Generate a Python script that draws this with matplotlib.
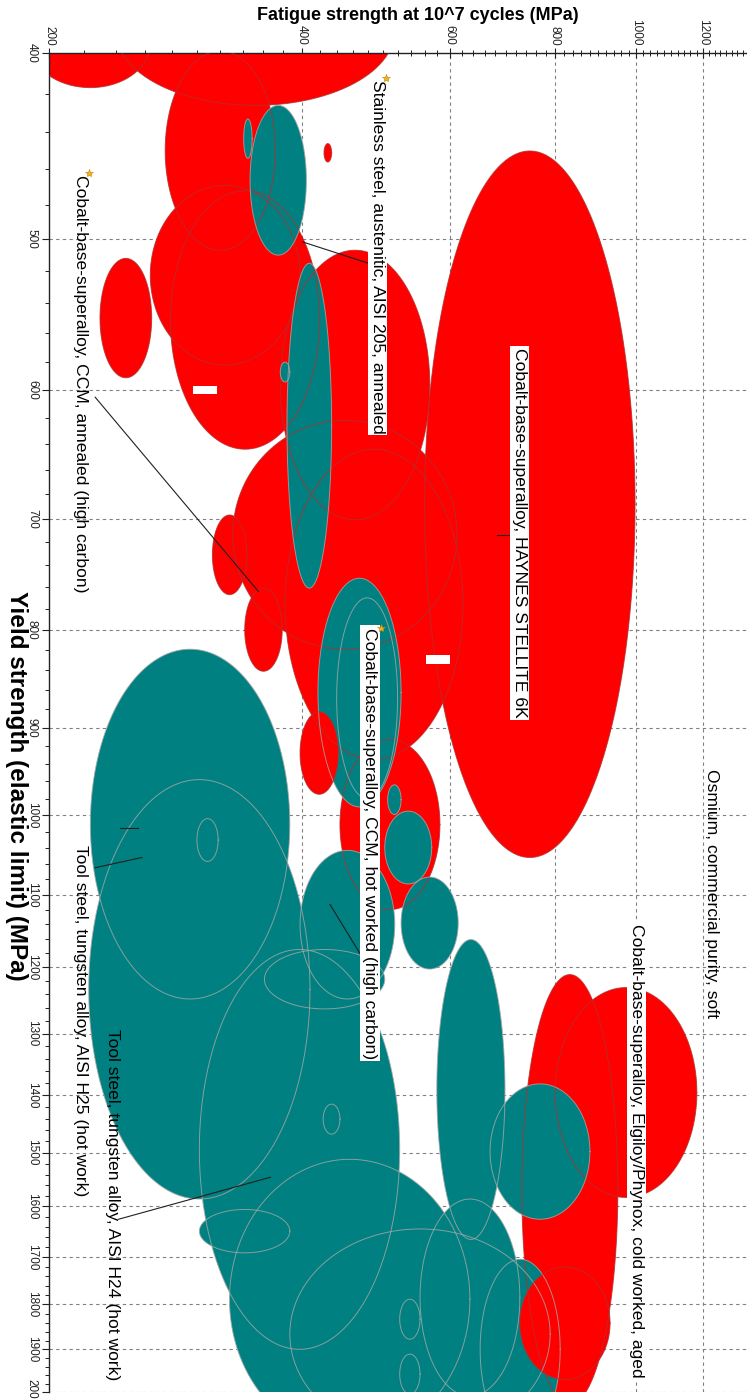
import numpy as np
import matplotlib
matplotlib.use("Agg")
import matplotlib.pyplot as plt
from matplotlib.ticker import FixedLocator, MultipleLocator, NullFormatter, FuncFormatter
from matplotlib.patches import Rectangle

plt.rcParams['font.family'] = ['Liberation Sans', 'DejaVu Sans']

# ---------------- data (MPa) ----------------
# bubbles in drawing order: fatigue range, yield range, class
fat_lo = [190, 240, 275, 560, 264, 279, 377, 230, 331, 382, 444, 313, 342, 425, 801, 731,
          341, 347, 384, 377, 418, 440, 506, 502, 525,
          224, 223, 302, 328, 387, 579, 670, 302, 361, 398, 553, 652,
          300, 424, 523, 523,
          398, 727]
fat_hi = [264, 516, 372, 997, 398, 420, 568, 265, 612, 622, 584, 344, 379, 434, 1181, 951,
          349, 405, 434, 387, 525, 520, 525, 571, 614,
          387, 409, 523, 634, 790, 698, 881, 387, 502, 516, 727, 812,
          318, 444, 553, 553,
          442, 931]
ys_lo = [375, 356, 399, 450, 469, 472, 507, 512, 622, 644, 913, 697, 761, 446, 1230, 1211,
         433, 426, 515, 580, 752, 770, 964, 995, 1077,
         819, 958, 1175, 1512, 1644, 1161, 1381, 1606, 1175, 1043, 1586, 1705,
         1004, 1415, 1789, 1911,
         883, 1721]
ys_hi = [417, 426, 507, 1052, 582, 644, 701, 591, 819, 935, 1120, 767, 841, 456, 1583, 2030,
         454, 510, 761, 594, 990, 980, 999, 1086, 1203,
         1247, 1586, 1900, 2117, 2117, 1665, 1625, 1692, 1262, 1247, 2010, 2117,
         1057, 1467, 1877, 2005,
         975, 1970]
kind = ['r'] * 16 + ['t'] * 9 + ['t'] * 12 + ['t'] * 4 + ['r', 'r']

x_major = [200, 400, 600, 800, 1000, 1200]
y_major = [400, 500, 600, 700, 800, 900, 1000, 1100, 1200, 1300, 1400, 1500,
           1600, 1700, 1800, 1900, 2000]

labels = ["Stainless steel, austenitic, AISI 205, annealed",
          "Cobalt-base-superalloy, CCM, annealed (high carbon)",
          "Cobalt-base-superalloy, HAYNES STELLITE 6K",
          "Cobalt-base-superalloy, CCM, hot worked (high carbon)",
          "Osmium, commercial purity, soft",
          "Cobalt-base-superalloy, Elgiloy/Phynox, cold worked, aged",
          "Tool steel, tungsten alloy, AISI H25 (hot work)",
          "Tool steel, tungsten alloy, AISI H24 (hot work)"]
label_fat = [492, 218, 727, 482, 1231, 1002, 218, 238]
label_ys = [413, 463, 570, 798, 946, 1140, 1036, 1293]
label_box = [True, False, True, True, False, True, False, False]

colors = {'r': '#ff0000', 't': '#008080'}

# ---------------- figure ----------------
W, H = 747, 1399
fig = plt.figure(figsize=(W / 100, H / 100), dpi=100)
fig.patch.set_facecolor('white')
ax = fig.add_axes([49 / W, 1 - 1392 / H, 1 - 49 / W, (1392 - 53) / H])
ax.set_xscale('log')
ax.set_yscale('log')
ax.set_xlim(200, 1355)
ax.set_ylim(2000, 400)


def ellipse(flo, fhi, ylo, yhi, n=240):
    lx0, lx1 = np.log10(flo), np.log10(fhi)
    ly0, ly1 = np.log10(ylo), np.log10(yhi)
    t = np.linspace(0, 2 * np.pi, n)
    x = 10 ** ((lx0 + lx1) / 2 + (lx1 - lx0) / 2 * np.cos(t))
    y = 10 ** ((ly0 + ly1) / 2 + (ly1 - ly0) / 2 * np.sin(t))
    return x, y


shapes = [ellipse(a, b, c, d) for a, b, c, d in zip(fat_lo, fat_hi, ys_lo, ys_hi)]
for (x, y), k in zip(shapes, kind):
    ax.fill(x, y, color=colors[k], lw=0, zorder=2)
for (x, y), k in zip(shapes, kind):
    ax.plot(x, y, color='#a8a8a8' if k == 't' else '#b03030', lw=0.7, alpha=0.8, zorder=3)

# empty label boxes
ax.add_patch(Rectangle((297, 597), 20, 6, fc='white', ec='none', zorder=5))
ax.add_patch(Rectangle((562, 825), 39, 9, fc='white', ec='none', zorder=5))

# leader lines
leaders = [((401, 480), (502, 515)), ((227, 355), (605, 764)), ((683, 717), (714, 714)),
           ((432, 472), (1113, 1186)), ((227, 258), (1065, 1052)),
           ((243, 255), (1015, 1015)), ((242, 367), (1625, 1545))]
for xs, ys in leaders:
    ax.plot(xs, ys, color='#202020', lw=0.8, zorder=6)

for txt, fx, fy, box in zip(labels, label_fat, label_ys, label_box):
    kw = {}
    if box:
        kw['bbox'] = dict(boxstyle='square,pad=0.12', fc='white', ec='none')
    ax.text(fx, fy, txt, rotation=-90, ha='center', va='top', fontsize=12.6,
            color='black', zorder=7, **kw)

for sx, sy in [(504, 412), (223, 462), (497, 798)]:
    ax.plot(sx, sy, marker='*', ms=6, color='#f2b418', mec='#c08010', mew=0.4, zorder=8)

# grid
ax.set_axisbelow(True)
for v in x_major[1:]:
    ax.axvline(v, color='#808080', lw=0.8, ls=(0, (3, 3)), zorder=0.5)
for v in y_major[1:]:
    ax.axhline(v, color='#808080', lw=0.8, ls=(0, (3, 3)), zorder=0.5)

# axes styling
ax.xaxis.tick_top()
ax.xaxis.set_major_locator(FixedLocator(x_major))
ax.xaxis.set_minor_locator(MultipleLocator(20))
ax.yaxis.set_major_locator(FixedLocator(y_major))
ax.yaxis.set_minor_locator(MultipleLocator(20))
fmt = FuncFormatter(lambda v, p: f"{v:g}")
ax.xaxis.set_major_formatter(fmt)
ax.yaxis.set_major_formatter(fmt)
ax.xaxis.set_minor_formatter(NullFormatter())
ax.yaxis.set_minor_formatter(NullFormatter())
ax.tick_params(axis='x', which='major', direction='inout', length=7, width=0.8,
               labelsize=8.5, pad=2, labelrotation=-90, colors='#222222')
ax.tick_params(axis='x', which='minor', direction='inout', length=4, width=0.6)
ax.tick_params(axis='y', which='major', direction='out', length=5, width=0.8,
               labelsize=8.5, pad=3, labelrotation=-90, colors='#222222')
ax.tick_params(axis='y', which='minor', direction='out', length=3, width=0.6)
for lab in ax.get_yticklabels():
    lab.set_va('center')
for s in ['right', 'bottom']:
    ax.spines[s].set_visible(False)
for s in ['top', 'left']:
    ax.spines[s].set_linewidth(1.0)
    ax.spines[s].set_color('#222222')

fig.text(418 / W, 1 - 16 / H, "Fatigue strength at 10^7 cycles (MPa)", ha='center',
         va='center', fontsize=13, fontweight='bold')
fig.text(16 / W, 1 - 786 / H, "Yield strength (elastic limit) (MPa)", ha='center',
         va='center', rotation=-90, fontsize=17.5, fontweight='bold')

fig.savefig('out.png', dpi=100, facecolor='white')
